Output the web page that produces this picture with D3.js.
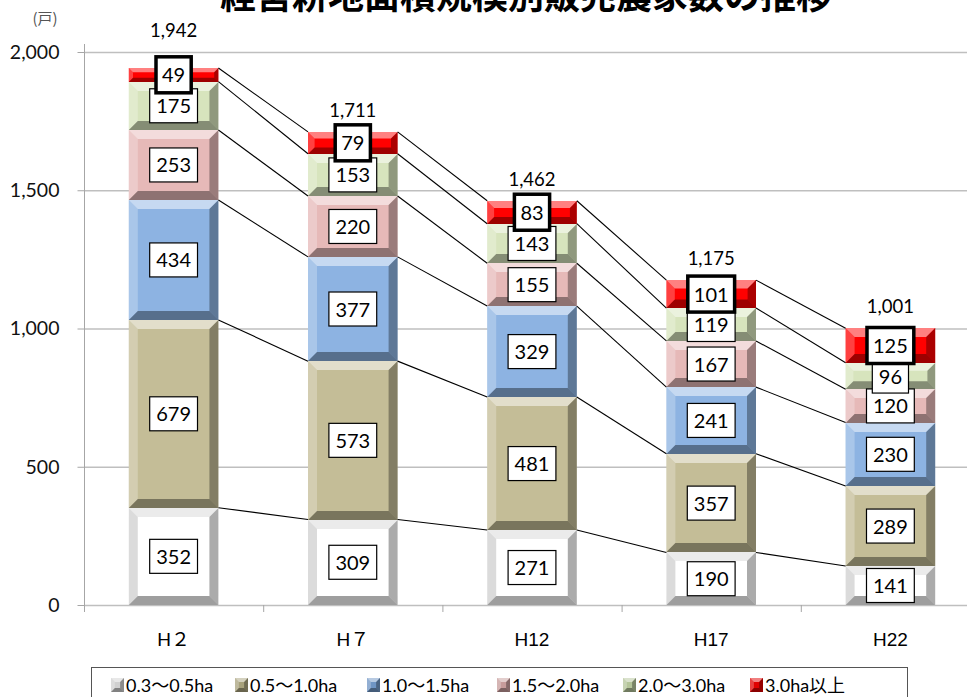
<!DOCTYPE html>
<html>
<head>
<meta charset="utf-8">
<script src="https://cdn.jsdelivr.net/npm/d3@7"></script>
<style>
  body { margin: 0; background: #fff; }
  svg { display: block; }
</style>
</head>
<body>
<div id="chart"></div>
<script>
// data
var years = ['H２', 'H７', 'H12', 'H17', 'H22'];
var sizeClasses = ['0.3〜0.5ha', '0.5〜1.0ha', '1.0〜1.5ha', '1.5〜2.0ha', '2.0〜3.0ha', '3.0ha以上'];
var ha03to05 = [352, 309, 271, 190, 141];
var ha05to10 = [679, 573, 481, 357, 289];
var ha10to15 = [434, 377, 329, 241, 230];
var ha15to20 = [253, 220, 155, 167, 120];
var ha20to30 = [175, 153, 143, 119, 96];
var ha30plus = [49, 79, 83, 101, 125];
var totals = [1942, 1711, 1462, 1175, 1001];
var yTicks = [0, 500, 1000, 1500, 2000];

var seriesValues = [ha03to05, ha05to10, ha10to15, ha15to20, ha20to30, ha30plus];
var colors = ['#ffffff', '#c4bd97', '#8db3e2', '#e6b9b8', '#d7e4bd', '#ff0000'];
var legendIcon = ['#d0d0d0', '#a8a27c', '#6f95c4', '#c79c9b', '#b5c59a', '#e00000'];

var width = 967, height = 697;
var font = "Lato, 'Noto Sans CJK JP', sans-serif";

var svg = d3.select('#chart')
  .append('svg')
  .attr('width', width)
  .attr('height', height);

// scales
var x = d3.scaleBand()
  .domain(years)
  .range([84, 980])
  .paddingInner(0.5)
  .paddingOuter(0.25);

var y = d3.scaleLinear()
  .domain([0, 2000])
  .range([605, 52]);

// table for stacking
var table = years.map(function(yr, i) {
  var row = { year: yr };
  sizeClasses.forEach(function(c, k) { row[c] = seriesValues[k][i]; });
  return row;
});
var stacked = d3.stack().keys(sizeClasses)(table);

// title (cut at the top like the original)
svg.append('text')
  .attr('x', 526)
  .attr('y', 9)
  .attr('text-anchor', 'middle')
  .style('font-family', "'Noto Sans CJK JP', sans-serif")
  .style('font-size', '36px')
  .style('font-weight', 'bold')
  .text('経営耕地面積規模別販売農家数の推移');

// gridlines
svg.append('g')
  .selectAll('line')
  .data(yTicks)
  .join('line')
  .attr('x1', 84)
  .attr('x2', width)
  .attr('y1', d => y(d) + 0.5)
  .attr('y2', d => y(d) + 0.5)
  .attr('stroke', '#bfbfbf')
  .attr('stroke-width', 1.3);

// Y axis
var yAxis = svg.append('g')
  .attr('transform', 'translate(84.5,0)')
  .call(d3.axisLeft(y).tickValues(yTicks).tickSize(7).tickPadding(18).tickFormat(d3.format(',')));
yAxis.select('.domain').attr('stroke', '#a6a6a6').attr('d', 'M0,44V605');
yAxis.selectAll('.tick line').attr('stroke', '#a6a6a6');
yAxis.selectAll('.tick text')
  .style('font-family', font)
  .style('font-size', '19.5px')
  .attr('fill', '#111');

svg.append('text')
  .attr('x', 45)
  .attr('y', 24)
  .attr('text-anchor', 'middle')
  .style('font-family', "'Noto Sans CJK JP', sans-serif")
  .style('font-size', '15px')
  .attr('fill', '#555')
  .text('(戸)');

// X axis ticks at category boundaries
var step = x.step();
var boundaries = d3.range(years.length + 1).map(i => x.range()[0] + i * step);
svg.append('g')
  .selectAll('line')
  .data(boundaries)
  .join('line')
  .attr('x1', d => d + 0.5)
  .attr('x2', d => d + 0.5)
  .attr('y1', 605)
  .attr('y2', 612)
  .attr('stroke', '#a6a6a6');

svg.append('g')
  .selectAll('text')
  .data(years)
  .join('text')
  .attr('x', d => x(d) + x.bandwidth() / 2)
  .attr('y', 646)
  .attr('text-anchor', 'middle')
  .style('font-family', "'Liberation Sans', 'Noto Sans CJK JP', sans-serif")
  .style('font-size', '19px')
  .text(d => d);

// bevelled segments
function bevel(g, x0, y0, w, h, color) {
  var b = Math.min(9, h * 0.3, w * 0.3);
  var pale = color === '#ffffff';
  g.append('rect')
    .attr('x', x0).attr('y', y0).attr('width', w).attr('height', h)
    .attr('fill', color);
  var x1 = x0 + w, y1 = y0 + h;
  var faces = [
    { pts: [[x0, y0], [x1, y0], [x1 - b, y0 + b], [x0 + b, y0 + b]], fill: pale ? '#000' : '#fff', op: pale ? 0.08 : 0.5 },
    { pts: [[x0, y0], [x0 + b, y0 + b], [x0 + b, y1 - b], [x0, y1]], fill: pale ? '#000' : '#fff', op: pale ? 0.14 : 0.25 },
    { pts: [[x1, y0], [x1, y1], [x1 - b, y1 - b], [x1 - b, y0 + b]], fill: '#000', op: 0.33 },
    { pts: [[x0, y1], [x0 + b, y1 - b], [x1 - b, y1 - b], [x1, y1]], fill: '#000', op: 0.38 }
  ];
  g.selectAll(null)
    .data(faces)
    .join('polygon')
    .attr('points', d => d.pts.map(p => p.join(',')).join(' '))
    .attr('fill', d => d.fill)
    .attr('fill-opacity', d => d.op);
}

var bars = svg.append('g');
stacked.forEach(function(layer, k) {
  layer.forEach(function(d) {
    var top = Math.round(y(d[1])), bot = Math.round(y(d[0]));
    bevel(bars, x(d.data.year), top, x.bandwidth(), bot - top, colors[k]);
  });
});

// connector lines between bars at each boundary
var lines = svg.append('g');
stacked.forEach(function(layer) {
  for (var i = 0; i < layer.length - 1; i++) {
    lines.append('line')
      .attr('x1', x(years[i]) + x.bandwidth())
      .attr('y1', y(layer[i][1]))
      .attr('x2', x(years[i + 1]))
      .attr('y2', y(layer[i + 1][1]))
      .attr('stroke', '#000')
      .attr('stroke-width', 1.1);
  }
});

// value label boxes
var labels = svg.append('g');
stacked.forEach(function(layer, k) {
  var isTop = k === stacked.length - 1;
  layer.forEach(function(d) {
    var cx = x(d.data.year) + x.bandwidth() / 2;
    var cy = (y(d[0]) + y(d[1])) / 2;
    var val = d[1] - d[0];
    var g = labels.append('g');
    var rect = g.append('rect')
      .attr('fill', '#fff')
      .attr('stroke', '#000')
      .attr('stroke-width', isTop ? 3.5 : 1.2);
    var t = g.append('text')
      .attr('x', cx)
      .attr('y', cy + 7.5)
      .attr('text-anchor', 'middle')
      .style('font-family', font)
      .style('font-size', '20px')
      .text(val);
    var tw = t.node().getComputedTextLength();
    var bw = tw + (isTop ? 12 : 13), bh = isTop ? 36 : 34;
    rect.attr('x', cx - bw / 2).attr('y', cy - bh / 2).attr('width', bw).attr('height', bh);
  });
});

// totals above bars (pushed above the 2,000 line when too close to it)
svg.append('g')
  .selectAll('text')
  .data(totals)
  .join('text')
  .attr('x', (d, i) => x(years[i]) + x.bandwidth() / 2)
  .attr('y', function(d) {
    var ly = y(d) - 15;
    return ly < y(2000) + 20 ? y(2000) - 15 : ly;
  })
  .attr('text-anchor', 'middle')
  .style('font-family', font)
  .style('font-size', '18.5px')
  .text(d => d3.format(',')(d));

// legend
var legend = svg.append('g');
legend.append('rect')
  .attr('x', 91.5).attr('y', 667.5)
  .attr('width', 816).attr('height', 40)
  .attr('fill', '#fff')
  .attr('stroke', '#555');

var legendX = [111, 235, 367, 497, 623, 750];
sizeClasses.forEach(function(c, k) {
  var item = legend.append('g').attr('transform', 'translate(' + legendX[k] + ',678)');
  bevel(item, 0, 0, 13, 14, legendIcon[k]);
  item.append('text')
    .attr('x', 15)
    .attr('y', 14)
    .style('font-family', font)
    .style('font-size', '18px')
    .text(c);
});
</script>
</body>
</html>
